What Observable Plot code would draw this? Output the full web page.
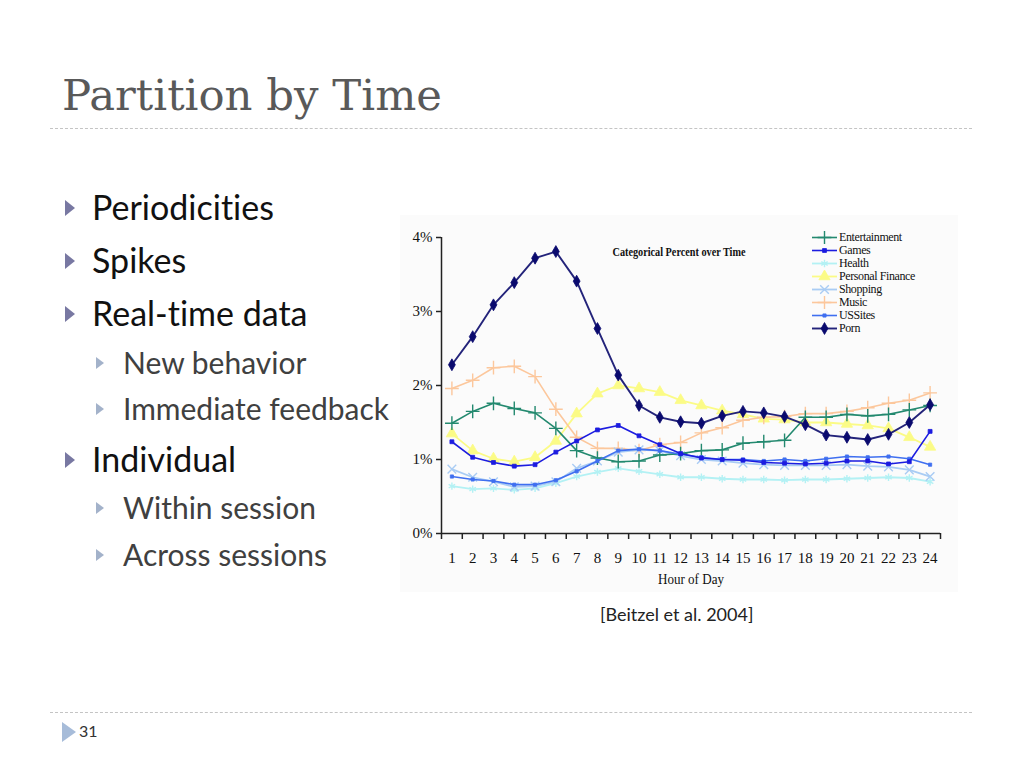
<!DOCTYPE html>
<html>
<head>
<meta charset="utf-8">
<script src="https://cdn.jsdelivr.net/npm/d3@7"></script>
<script src="https://cdn.jsdelivr.net/npm/@observablehq/plot@0.6"></script>
<style>
  html, body { margin: 0; padding: 0; background: #fff; }
  #slide { position: relative; width: 1024px; height: 768px; overflow: hidden; font-family: Lato, "Open Sans", sans-serif; font-variant-ligatures: none; }
  .abs { position: absolute; white-space: nowrap; }
  #title { left: 62px; top: 74px; font-family: "DejaVu Serif", serif; font-size: 40px; color: #595959; line-height: 1; }
  .rule { position: absolute; left: 50px; width: 922px; height: 0; border-top: 1px dashed #c4c4c4; }
  .item { transform: translateY(-50%); line-height: 1; }
  .l0 { left: 92px; font-size: 34px; color: #111; }
  .l1 { left: 123px; font-size: 30px; color: #404040; }
  .tri { position: absolute; width: 0; height: 0; border-style: solid; border-color: transparent; transform: translateY(-50%); }
  #chart { position: absolute; left: 400px; top: 215px; }
  #legend { position: absolute; left: 812px; top: 231px; font-family: "Liberation Serif", serif; font-size: 12px; color: #111; letter-spacing: -0.4px; }
  #legend div { display: flex; align-items: center; height: 13px; }
  #caption { left: 600px; top: 603px; font-size: 18px; color: #222; }
  #pagenum { left: 79px; top: 721px; font-size: 16px; color: #333; }
</style>
</head>
<body>
<div id="slide">
  <div id="title" class="abs"></div>
  <div class="rule" style="top:128px"></div>
  <div class="rule" style="top:712px"></div>
  <div id="chart"></div>
  <div id="legend"></div>
  <div id="caption" class="abs">[Beitzel et al. 2004]</div>
  <div class="tri" style="left:62px; top:732px; border-width:10px 0 10px 14px; border-left-color:#a7bcd9;"></div>
  <div id="pagenum" class="abs">31</div>
</div>
<script>
// ---------- data ----------
const hours = [1,2,3,4,5,6,7,8,9,10,11,12,13,14,15,16,17,18,19,20,21,22,23,24];
const seriesNames = ["Entertainment","Games","Health","Personal Finance","Shopping","Music","USSites","Porn"];
const entertainment = [1.49,1.65,1.76,1.69,1.63,1.42,1.12,1.02,0.97,0.98,1.06,1.08,1.12,1.13,1.22,1.24,1.26,1.57,1.57,1.61,1.59,1.61,1.67,1.73];
const games         = [1.24,1.03,0.96,0.91,0.93,1.10,1.25,1.40,1.46,1.32,1.20,1.08,1.02,1.00,0.99,0.96,0.95,0.94,0.95,0.98,0.98,0.94,0.97,1.38];
const health        = [0.64,0.60,0.61,0.59,0.61,0.68,0.77,0.83,0.88,0.84,0.80,0.76,0.76,0.74,0.73,0.73,0.72,0.73,0.73,0.74,0.75,0.76,0.75,0.70];
const personalFin   = [1.35,1.12,1.01,0.97,1.03,1.25,1.62,1.89,2.00,1.96,1.91,1.80,1.73,1.66,1.61,1.55,1.54,1.50,1.50,1.48,1.46,1.42,1.30,1.17];
const shopping      = [0.87,0.76,0.70,0.63,0.64,0.70,0.88,0.98,1.10,1.13,1.12,1.05,1.00,0.98,0.95,0.93,0.92,0.92,0.92,0.93,0.91,0.90,0.86,0.77];
const music         = [1.96,2.07,2.24,2.26,2.12,1.68,1.30,1.15,1.15,1.12,1.20,1.23,1.36,1.43,1.53,1.57,1.58,1.62,1.62,1.65,1.70,1.76,1.80,1.90];
const ussites       = [0.77,0.73,0.71,0.66,0.66,0.72,0.84,0.98,1.12,1.14,1.12,1.07,1.03,1.00,1.00,0.98,1.00,0.98,1.01,1.04,1.03,1.04,1.01,0.93];
const porn          = [2.28,2.66,3.09,3.39,3.72,3.81,3.41,2.77,2.14,1.73,1.57,1.51,1.49,1.59,1.65,1.63,1.58,1.47,1.33,1.30,1.27,1.34,1.50,1.74];
const yTicks = [0,1,2,3,4];
const yTickLabels = ["0%","1%","2%","3%","4%"];
const chartTitle = "Categorical Percent over Time";
const xLabel = "Hour of Day";
const slideTitle = "Partition by Time";
const bulletItems = ["Periodicities","Spikes","Real-time data","New behavior","Immediate feedback","Individual","Within session","Across sessions"];
const bulletLevels = [0,0,0,1,1,0,1,1];

// ---------- styles ----------
const seriesValues = [entertainment, games, health, personalFin, shopping, music, ussites, porn];
const styleBySeries = {
  "Entertainment":   {color:"#23896f", symbol:"plus",     r:4.5, filled:false, width:1.6},
  "Games":           {color:"#1c1ce0", symbol:"square",   r:2.2, filled:true,  width:1.6},
  "Health":          {color:"#b3f1f4", symbol:"asterisk", r:3.5, filled:false, width:1.8},
  "Personal Finance":{color:"#fbfb86", symbol:"triangle", r:4.2, filled:true,  width:1.8},
  "Shopping":        {color:"#a9ccf4", symbol:"times",    r:4,   filled:false, width:1.8},
  "Music":           {color:"#fcc79c", symbol:"plus",     r:4.5, filled:false, width:1.6},
  "USSites":         {color:"#3f6ff0", symbol:"square",   r:1.8, filled:true,  width:1.6},
  "Porn":            {color:"#23237a", symbol:"diamond",  r:3.6, filled:true,  width:1.9, mark:"#0a0a6e"}
};

const rows = seriesNames.flatMap((name, i) => seriesValues[i].map((v, j) => ({series: name, hour: hours[j], value: v})));

// ---------- slide text ----------
const slide = document.getElementById("slide");
const titleEl = document.getElementById("title");
titleEl.textContent = slideTitle;
{
  const w = titleEl.getBoundingClientRect().width;
  titleEl.style.fontSize = (40 * 380 / w) + "px";
}
const itemY = [207,260,313,362,408,459,507,554];
bulletItems.forEach((t, i) => {
  const lvl = bulletLevels[i];
  const d = document.createElement("div");
  d.className = "abs item l" + lvl;
  d.style.top = itemY[i] + "px";
  d.textContent = t;
  slide.appendChild(d);
  const tri = document.createElement("div");
  tri.className = "tri";
  if (lvl === 0) { tri.style.left = "65px"; tri.style.borderWidth = "8px 0 8px 10px"; tri.style.borderLeftColor = "#7878a2"; }
  else { tri.style.left = "96px"; tri.style.borderWidth = "6px 0 6px 8px"; tri.style.borderLeftColor = "#a3b2ca"; }
  tri.style.top = (itemY[i] + 1) + "px";
  slide.appendChild(tri);
});

// ---------- chart ----------
const marks = [
  Plot.ruleX([0.5], {y1: 0, y2: 4, stroke: "#222", strokeWidth: 1.5}),
  Plot.ruleY([0], {x1: 0.5, x2: 24.5, stroke: "#222", strokeWidth: 1.5}),
  Plot.axisX(d3.range(0.5, 25, 1), {tickSize: 6, tickFormat: () => "", stroke: "#222", strokeWidth: 1.5, label: null}),
  Plot.axisX(hours, {tickSize: 0, tickPadding: 19, label: null, fontSize: 15, fill: "#111"}),
  Plot.axisY(yTicks, {tickSize: 5, tickPadding: 4, tickFormat: (d) => yTickLabels[yTicks.indexOf(d)], label: null, fontSize: 15, fill: "#111", stroke: "#222", strokeWidth: 1.5}),
  Plot.text([xLabel], {frameAnchor: "bottom", dy: 46, fontSize: 15, fill: "#111", lineAnchor: "middle", className: "xlab"}),
  Plot.text([chartTitle], {frameAnchor: "top-left", dx: 171, dy: 10, fontSize: 12, fontWeight: "bold", fill: "#111", textAnchor: "start", lineAnchor: "top", className: "ctitle"})
];
const drawOrder = ["Personal Finance","Music","Health","Shopping","Entertainment","USSites","Games","Porn"];
drawOrder.forEach(name => {
  const s = styleBySeries[name];
  const data = rows.filter(d => d.series === name);
  marks.push(Plot.line(data, {x: "hour", y: "value", stroke: s.color, strokeWidth: s.width}));
  marks.push(Plot.dot(data, {x: "hour", y: "value", symbol: () => s.symbol, r: s.r,
    fill: s.filled ? (s.mark || s.color) : "none", stroke: s.mark || s.color, strokeWidth: s.filled ? 0.8 : 1.4}));
});

const chart = Plot.plot({
  width: 558, height: 377,
  marginLeft: 41, marginRight: 18, marginTop: 22, marginBottom: 59,
  style: {background: "#fbfbfb", fontFamily: "'Liberation Serif', serif", fontSize: 15, color: "#111"},
  x: {domain: [0.5, 24.5], axis: null},
  y: {domain: [0, 4], axis: null},
  symbol: {type: "identity"},
  marks
});
document.getElementById("chart").appendChild(chart);
d3.select(chart).selectAll(".ctitle text").attr("textLength", 133).attr("lengthAdjust", "spacingAndGlyphs");
d3.select(chart).selectAll(".xlab text").attr("textLength", 66).attr("lengthAdjust", "spacingAndGlyphs");

// ---------- legend ----------
const legend = document.getElementById("legend");
const symMap = {plus: d3.symbolPlus, square: d3.symbolSquare, asterisk: d3.symbolAsterisk, triangle: d3.symbolTriangle, times: d3.symbolTimes, diamond: d3.symbolDiamond};
seriesNames.forEach(name => {
  const s = styleBySeries[name];
  const row = document.createElement("div");
  const svg = d3.create("svg").attr("width", 26).attr("height", 13).style("margin-right", "1px");
  svg.append("line").attr("x1", 0).attr("x2", 25).attr("y1", 6.5).attr("y2", 6.5).attr("stroke", s.color).attr("stroke-width", s.width);
  const path = d3.symbol(symMap[s.symbol], Math.PI * s.r * s.r)();
  svg.append("path").attr("d", path).attr("transform", "translate(12.5,6.5)")
    .attr("fill", s.filled ? (s.mark || s.color) : "none").attr("stroke", s.mark || s.color).attr("stroke-width", s.filled ? 0.8 : 1.4);
  row.appendChild(svg.node());
  const t = document.createElement("span");
  t.textContent = name;
  row.appendChild(t);
  legend.appendChild(row);
});
</script>
</body>
</html>
